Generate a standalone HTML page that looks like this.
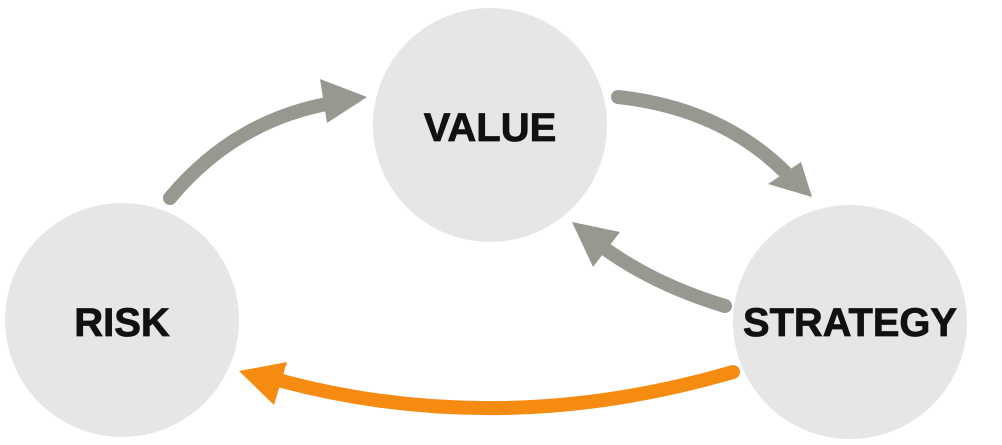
<!DOCTYPE html>
<html><head><style>
html,body{margin:0;padding:0;background:#fff;}
svg{display:block;}
text{font-family:"Liberation Sans",Arial,sans-serif;font-weight:bold;font-size:40px;fill:#111;text-anchor:middle;dominant-baseline:central;stroke:#111;stroke-width:0.8px;}
</style></head><body>
<svg width="1002" height="445" viewBox="0 0 1002 445">
<circle cx="490" cy="125" r="117" fill="#e6e6e6"/>
<circle cx="122" cy="320" r="117" fill="#e6e6e6"/>
<circle cx="850" cy="322" r="117" fill="#e6e6e6"/>
<text x="490" y="128">VALUE</text>
<text x="122" y="323">RISK</text>
<text x="850" y="323" textLength="214" lengthAdjust="spacingAndGlyphs">STRATEGY</text>
<g fill="none" stroke="#979890" stroke-width="14" stroke-linecap="round">
<path d="M170 198 Q235 120 332 103"/>
<path d="M618 97 Q720 108 785 172"/>
<path d="M725 306 Q655 285 604 248"/>
</g>
<g fill="#979890">
<polygon points="367,97 320,79 327,123"/>
<polygon points="812,197 768,184 801,162"/>
<polygon points="572,222 620,232 593,267"/>
</g>
<path d="M733 372 Q500 440 278 380" fill="none" stroke="#f68b12" stroke-width="14" stroke-linecap="round"/>
<polygon points="239,371 287,362 274,405" fill="#f68b12"/>
</svg>
</body></html>
